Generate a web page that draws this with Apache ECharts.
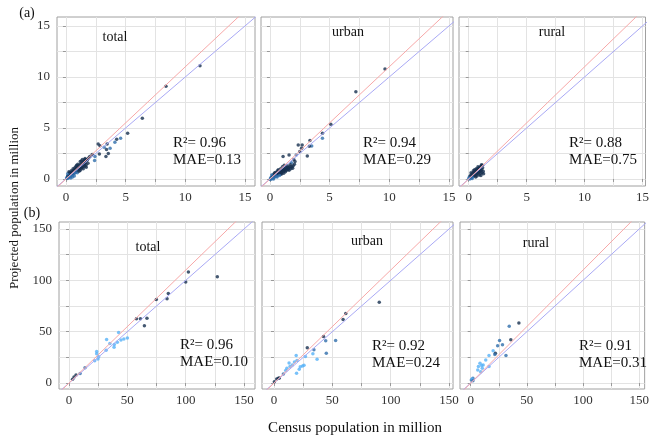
<!DOCTYPE html>
<html>
<head>
<meta charset="utf-8">
<script src="https://cdn.jsdelivr.net/npm/echarts@6/dist/echarts.min.js"></script>
<style>
  html, body { margin: 0; padding: 0; background: #fff; }
  #chart { width: 652px; height: 438px; }
</style>
</head>
<body>
<div id="chart"></div>
<script>
// [census, projected, colour level 0 dark .. 2 light]
const topTotal = [
  [11.23, 11.1, 0], [8.38, 9.1, 0], [6.4, 5.95, 0], [5.17, 4.48, 0], [4.58, 3.99, 1], [4.25, 3.9, 0],
  [4.1, 3.6, 1], [3.45, 3.43, 0], [2.7, 3.43, 0], [2.85, 3.25, 0], [3.2, 3.1, 1], [3.4, 2.9, 0],
  [3.7, 3.0, 1], [3.55, 2.5, 0], [3.35, 2.2, 0], [2.8, 2.45, 0], [2.43, 2.2, 1], [2.2, 2.4, 0],
  [2.0, 2.2, 0], [1.8, 1.9, 0], [2.4, 1.8, 1],
  [0.05, 0.1, 1], [0.1, 0.05, 1], [0.12, 0.2, 1], [0.15, 0.3, 0], [0.2, 0.1, 1], [0.22, 0.25, 1],
  [0.25, 0.4, 0], [0.3, 0.2, 1], [0.3, 0.35, 0], [0.35, 0.5, 0], [0.38, 0.3, 1], [0.4, 0.45, 0],
  [0.42, 0.6, 0], [0.45, 0.35, 1], [0.5, 0.5, 0], [0.5, 0.65, 0], [0.52, 0.4, 1], [0.55, 0.7, 0],
  [0.58, 0.55, 0], [0.6, 0.45, 1], [0.62, 0.8, 0], [0.65, 0.6, 0], [0.68, 0.7, 0], [0.7, 0.55, 1],
  [0.72, 0.9, 0], [0.75, 0.75, 0], [0.78, 0.6, 1], [0.8, 0.85, 0], [0.82, 1.0, 0], [0.85, 0.7, 1],
  [0.88, 0.9, 0], [0.9, 1.1, 0], [0.92, 0.8, 0], [0.95, 1.0, 0], [0.98, 0.85, 1], [1.0, 1.2, 0],
  [1.02, 0.95, 0], [1.05, 1.05, 0], [1.08, 0.9, 1], [1.1, 1.3, 0], [1.12, 1.1, 0], [1.15, 1.0, 0],
  [1.18, 1.4, 0], [1.2, 1.15, 0], [1.22, 1.25, 0], [1.25, 1.05, 0], [1.28, 1.5, 0], [1.3, 1.3, 0],
  [1.32, 1.1, 0], [1.35, 1.4, 0], [1.4, 1.6, 0], [1.42, 1.2, 0], [1.45, 1.45, 0], [1.5, 1.3, 0],
  [1.5, 1.7, 0], [1.55, 1.5, 0], [1.6, 1.25, 0], [1.62, 1.6, 0], [1.7, 1.4, 0], [1.75, 1.8, 0],
  [0.6, 1.0, 0], [0.9, 1.35, 0], [1.2, 1.7, 0], [0.3, 0.6, 0], [1.65, 1.9, 0],
  [0.15, 0.5, 1], [0.4, 0.1, 1], [0.45, 0.8, 0], [0.7, 0.3, 1], [0.75, 1.1, 0], [0.95, 0.6, 1],
  [1.0, 1.45, 0], [1.2, 0.85, 0], [1.3, 1.75, 0], [1.45, 1.0, 0], [1.55, 1.85, 0], [1.7, 1.15, 0],
  [1.85, 1.55, 0], [1.9, 2.05, 0], [0.25, 0.7, 0], [0.55, 0.2, 1], [0.85, 1.25, 0], [1.1, 0.75, 0],
  [1.38, 1.9, 0], [1.6, 2.0, 0]
];
const topUrban = [
  [9.64, 10.78, 0], [7.2, 8.56, 0], [5.1, 5.36, 0], [4.4, 4.48, 0], [4.4, 4.0, 1], [3.35, 3.76, 0],
  [3.5, 3.24, 1], [3.3, 3.2, 0], [2.37, 3.33, 0], [2.7, 3.33, 0], [2.65, 3.0, 0], [2.5, 2.7, 0],
  [3.13, 2.25, 0], [2.2, 2.35, 1], [1.6, 2.35, 0], [1.1, 2.2, 0], [2.0, 1.9, 0], [1.8, 1.6, 1], [2.1, 1.7, 0],
  [0.02, -0.05, 1], [0.05, 0.1, 1], [0.1, 0.0, 1], [0.12, 0.15, 1], [0.18, 0.05, 1], [0.2, 0.25, 0],
  [0.25, 0.12, 1], [0.3, 0.3, 0], [0.32, 0.15, 1], [0.38, 0.35, 0], [0.4, 0.2, 1], [0.45, 0.4, 0],
  [0.48, 0.28, 1], [0.52, 0.5, 0], [0.55, 0.3, 1], [0.6, 0.45, 0], [0.62, 0.6, 0], [0.66, 0.38, 1],
  [0.7, 0.55, 0], [0.74, 0.7, 0], [0.78, 0.45, 0], [0.8, 0.6, 0], [0.85, 0.78, 0], [0.88, 0.52, 0],
  [0.92, 0.7, 0], [0.95, 0.85, 0], [1.0, 0.6, 0], [1.02, 0.8, 0], [1.08, 0.95, 0], [1.1, 0.7, 0],
  [1.15, 0.88, 0], [1.2, 1.0, 0], [1.25, 0.8, 0], [1.3, 0.95, 0], [1.35, 1.1, 0], [1.4, 0.85, 0],
  [1.45, 1.0, 0], [1.5, 1.15, 0], [1.55, 0.95, 0], [1.6, 1.1, 0], [1.7, 1.2, 0], [1.75, 1.0, 0],
  [1.85, 1.2, 0], [1.95, 1.3, 0], [0.35, 0.5, 0], [0.7, 0.9, 0], [1.05, 1.2, 0], [0.25, 0.4, 0],
  [1.25, 1.25, 0], [0.5, 0.65, 0],
  [0.15, 0.4, 1], [0.4, 0.6, 0], [0.6, 0.2, 1], [0.65, 0.8, 0], [0.9, 1.0, 0], [0.95, 0.45, 0],
  [1.2, 1.35, 0], [1.3, 0.7, 0], [1.45, 1.3, 0], [1.6, 0.85, 0], [1.7, 1.4, 0], [1.9, 1.05, 0],
  [2.05, 1.45, 0], [0.3, 0.0, 1], [0.8, 0.35, 1], [1.15, 0.55, 0]
];
const topRural = [
  [0.0, 0.05, 1], [0.05, 0.2, 1], [0.1, 0.0, 1], [0.12, 0.3, 0], [0.15, 0.15, 1], [0.2, 0.4, 0],
  [0.22, 0.1, 1], [0.25, 0.25, 0], [0.3, 0.5, 0], [0.32, 0.2, 1], [0.35, 0.35, 0], [0.4, 0.6, 0],
  [0.42, 0.3, 1], [0.45, 0.45, 0], [0.5, 0.7, 0], [0.52, 0.35, 0], [0.55, 0.55, 0], [0.6, 0.8, 0],
  [0.62, 0.45, 0], [0.65, 0.65, 0], [0.7, 0.9, 0], [0.72, 0.5, 0], [0.75, 0.75, 0], [0.8, 1.0, 0],
  [0.82, 0.6, 0], [0.85, 0.85, 0], [0.9, 1.1, 0], [0.92, 0.7, 0], [0.95, 0.95, 0], [1.0, 1.2, 0],
  [1.02, 0.8, 0], [1.05, 1.05, 0], [1.1, 1.3, 0], [1.12, 0.9, 0], [1.15, 0.6, 0], [1.2, 1.1, 0],
  [1.25, 0.75, 0], [1.28, 0.5, 0], [1.1, 1.4, 0], [0.6, 0.2, 0], [0.9, 0.4, 0], [0.3, 0.05, 1],
  [0.2, 0.6, 0], [0.5, 0.9, 0], [0.7, 0.3, 0], [0.8, 1.2, 0], [1.0, 0.55, 0], [1.2, 1.35, 0],
  [0.4, 0.8, 0], [0.65, 1.0, 0], [1.05, 0.35, 0]
];
const botTotal = [
  [102.3, 108.1, 0], [100, 98.3, 0], [127.1, 103.6, 0], [85.1, 87.3, 0], [84.0, 82, 0], [74.8, 81.4, 0],
  [57.8, 62.6, 0], [61.2, 62.6, 0], [66.8, 63.2, 0], [64.6, 55.9, 0], [42.5, 49.3, 2], [50, 43.8, 2],
  [47, 42.8, 2], [44.5, 42, 2], [41.4, 39.7, 2], [38.8, 37.5, 2], [35, 38.5, 2], [32.2, 42.5, 2],
  [38.6, 34.8, 2], [31.8, 32, 2], [23.7, 30.7, 2], [23.7, 28.4, 2], [25.4, 25.5, 2], [24.8, 23.3, 2],
  [22, 21.8, 2], [13.7, 15, 1], [9.5, 9.2, 1], [6, 7.8, 0], [4.3, 5.8, 0], [3, 3.6, 0]
];
const botUrban = [
  [90.2, 78.7, 0], [61.5, 67.6, 0], [59.2, 61.8, 0], [42.4, 45.4, 0], [44.3, 41.2, 1], [52.8, 41.4, 1],
  [44.8, 29, 1], [28.5, 34.3, 0], [34.2, 32.4, 1], [33.3, 28.4, 2], [36.9, 23.2, 2], [26.9, 25.8, 2],
  [19, 26.8, 2], [19.7, 21.9, 2], [17.5, 20.4, 2], [12.9, 19.5, 2], [15.7, 17.6, 2], [13.7, 16, 2],
  [11, 14.4, 2], [10, 12.1, 2], [8, 8.8, 1], [19.3, 9.5, 2], [21.6, 13.5, 2], [22.5, 15.8, 2],
  [24.5, 16.5, 2], [25.7, 17.4, 2], [3.7, 4.6, 0], [2.3, 3.9, 0], [4.6, 4.8, 0], [0.3, 1.3, 0]
];
const botRural = [
  [42.9, 58.5, 0], [34.3, 55.2, 1], [35.7, 42.2, 0], [25.7, 41.5, 1], [24, 36.3, 1], [28.3, 37.3, 1],
  [20, 31.4, 2], [22, 29, 0], [21.5, 27.8, 1], [31.4, 26.8, 1], [16.3, 26.8, 2], [13.4, 22.5, 2],
  [16.3, 16, 2], [11.1, 17.6, 2], [8.3, 19.3, 2], [9.8, 17.2, 2], [6.3, 12.7, 2], [8.9, 11.1, 2],
  [10.3, 14.4, 2], [6.9, 16, 2], [2, 4.6, 1], [0.6, 2.9, 1], [1.1, 3.9, 2], [2, 2.3, 1]
];

const panelNames = ['total', 'urban', 'rural', 'total', 'urban', 'rural'];
const r2Values = ['0.96', '0.94', '0.88', '0.96', '0.92', '0.91'];
const maeValues = ['0.13', '0.29', '0.75', '0.10', '0.24', '0.31'];
const topTicks = [0, 2.5, 5, 7.5, 10, 12.5, 15];
const botTicks = [0, 25, 50, 75, 100, 125, 150];
const topLabelStep = 5;
const botLabelStep = 50;
const redSlope = 1.1; // fitted line, blue is 1:1
const lineEnds = [-20, 200];

const panels = [topTotal, topUrban, topRural, botTotal, botUrban, botRural];
const palette = ['#16304f', '#2f6eab', '#56B1F7'];
const serif = '"Liberation Serif", "Times New Roman", serif';

const grids = [
  { left: 57, top: 17, width: 198, height: 169 },
  { left: 261, top: 17, width: 192, height: 169 },
  { left: 459, top: 17, width: 192, height: 169 },
  { left: 59, top: 222, width: 196, height: 167 },
  { left: 262, top: 222, width: 191, height: 167 },
  { left: 460, top: 222, width: 191, height: 167 }
];
const xRanges = [[-0.75, 15.84], [-0.75, 15.34], [-0.84, 15.26], [-8.6, 159.4], [-10.3, 153.4], [-9.5, 154.8]];
const yRanges = [[-0.69, 15.88], [-0.69, 15.88], [-0.69, 15.88], [-5.8, 156.8], [-5.8, 156.8], [-5.8, 156.8]];

function axis(i, range, isY) {
  const top = i < 3;
  const step = top ? topLabelStep : botLabelStep;
  return {
    type: 'value',
    gridIndex: i,
    min: range[0],
    max: range[1],
    axisLine: { show: false },
    axisTick: { show: true, length: 3, customValues: top ? topTicks : botTicks, lineStyle: { color: '#999' } },
    axisLabel: {
      show: !isY || i % 3 === 0,
      customValues: top ? topTicks : botTicks,
      formatter: v => (Math.abs(v % step) < 1e-6 ? String(v) : ''),
      margin: isY ? 7 : 5,
      color: '#333',
      fontFamily: serif,
      fontSize: 13
    },
    splitLine: { show: true, lineStyle: { color: '#e3e3e3', width: 1 } }
  };
}

const series = [];
panels.forEach((pts, i) => {
  series.push({
    type: 'line', xAxisIndex: i, yAxisIndex: i, symbol: 'none', silent: true,
    lineStyle: { color: '#a9a9f5', width: 1 },
    data: lineEnds.map(v => [v, v])
  });
  series.push({
    type: 'line', xAxisIndex: i, yAxisIndex: i, symbol: 'none', silent: true,
    lineStyle: { color: '#f7a8a8', width: 1 },
    data: lineEnds.map(v => [v, v * redSlope])
  });
  series.push({
    type: 'scatter', xAxisIndex: i, yAxisIndex: i,
    symbolSize: i < 3 ? 3.5 : 3.5,
    itemStyle: { color: p => palette[p.data[2]] },
    data: pts
  });
});

// text positions per panel
const namePos = [[115, 37], [348, 32], [552, 32], [148, 247], [367, 241], [536, 243]];
const statPos = [[173, 143], [363, 143], [569, 143], [180, 345], [372, 346], [579, 346]];
const graphic = [];
const txt = (x, y, text, size, align, extra) => Object.assign({
  type: 'text', x: x, y: y, z: 100,
  style: { text: text, font: size + 'px ' + serif, fill: '#111', align: align, verticalAlign: 'middle' }
}, extra || {});
panelNames.forEach((n, i) => {
  graphic.push(txt(namePos[i][0], namePos[i][1], n, 14, 'center'));
  graphic.push(txt(statPos[i][0], statPos[i][1], 'R\u00b2= ' + r2Values[i], 15, 'left'));
  graphic.push(txt(statPos[i][0], statPos[i][1] + 17, 'MAE=' + maeValues[i], 15, 'left'));
});
graphic.push(txt(27, 13, '(a)', 14, 'center'));
graphic.push(txt(32, 213, '(b)', 14, 'center'));
graphic.push(txt(15, 208, 'Projected population in million', 13, 'center', { rotation: Math.PI / 2 }));
graphic.push(txt(355, 428, 'Census population in million', 15, 'center'));

const chart = echarts.init(document.getElementById('chart'));
chart.setOption({
  animation: false,
  backgroundColor: '#fff',
  grid: grids.map(g => Object.assign({ show: true, borderColor: '#a0a0a0', borderWidth: 1, backgroundColor: 'transparent' }, g)),
  xAxis: grids.map((g, i) => axis(i, xRanges[i], false)),
  yAxis: grids.map((g, i) => axis(i, yRanges[i], true)),
  series: series,
  graphic: graphic
});
</script>
</body>
</html>
